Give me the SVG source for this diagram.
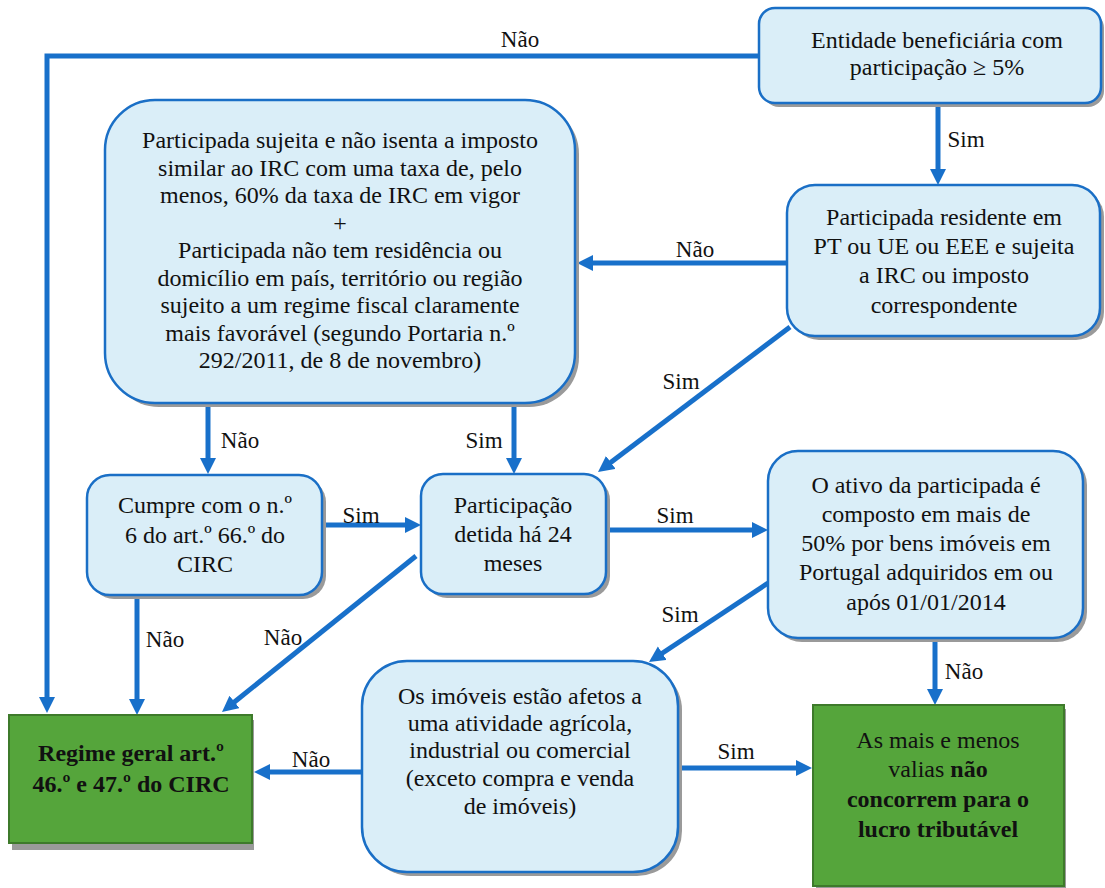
<svg xmlns="http://www.w3.org/2000/svg" width="1105" height="888" viewBox="0 0 1105 888" font-family="Liberation Serif, serif" font-size="24">
<defs>
<marker id="ah" markerUnits="userSpaceOnUse" markerWidth="18" markerHeight="18" refX="6" refY="8" orient="auto">
<path d="M0,0 L16,8 L0,16 z" fill="#1870CA"/>
</marker>
</defs>
<rect width="1105" height="888" fill="#fff"/>

<g id="connectors" fill="none" stroke="#1870CA" stroke-width="5" marker-end="url(#ah)">
<path d="M759,56 H47 V703"/>
<path d="M938,103 V175"/>
<path d="M787,263 H587"/>
<path d="M790,327 L606,466"/>
<path d="M208,403 V464"/>
<path d="M514,403 V464"/>
<path d="M323,525 H411"/>
<path d="M606,530 H758"/>
<path d="M137,595 V705"/>
<path d="M416,556 L229.8,705.7"/>
<path d="M768,583 L657.3,656.5"/>
<path d="M935,638 V695"/>
<path d="M362,772 H264"/>
<path d="M678,768 H802"/>
</g>
<g id="connector-labels" font-size="23" fill="#111" text-anchor="middle">
<text x="520" y="47">Não</text>
<text x="966" y="147">Sim</text>
<text x="695" y="257">Não</text>
<text x="681" y="389">Sim</text>
<text x="240" y="448">Não</text>
<text x="484" y="448">Sim</text>
<text x="361" y="523">Sim</text>
<text x="675" y="523">Sim</text>
<text x="165" y="647">Não</text>
<text x="283" y="645">Não</text>
<text x="680" y="622">Sim</text>
<text x="964" y="679">Não</text>
<text x="311" y="767">Não</text>
<text x="736" y="759">Sim</text>
</g>

<g id="n1" fill="#111" text-anchor="middle">
<rect fill="#9A9A9A" x="763" y="12" width="341" height="95" rx="16"/>
<rect fill="#DAEEF8" stroke="#1A6FC6" stroke-width="2.5" x="759" y="8" width="342" height="95" rx="16"/>
<text x="937" y="48">Entidade beneficiária com</text>
<text x="937" y="75">participação ≥ 5%</text>
</g>

<g id="n2" fill="#111" text-anchor="middle">
<rect fill="#9A9A9A" x="109" y="104" width="470" height="303" rx="50"/>
<rect fill="#DAEEF8" stroke="#1A6FC6" stroke-width="2.5" x="105" y="100" width="470" height="303" rx="50"/>
<text x="340" y="148">Participada sujeita e não isenta a imposto</text>
<text x="340" y="176">similar ao IRC com uma taxa de, pelo</text>
<text x="340" y="203">menos, 60% da taxa de IRC em vigor</text>
<text x="340" y="231">+</text>
<text x="340" y="258">Participada não tem residência ou</text>
<text x="340" y="286">domicílio em país, território ou região</text>
<text x="340" y="313">sujeito a um regime fiscal claramente</text>
<text x="340" y="341">mais favorável (segundo Portaria n.º</text>
<text x="340" y="368">292/2011, de 8 de novembro)</text>
</g>

<g id="n3" fill="#111" text-anchor="middle">
<rect fill="#9A9A9A" x="791" y="189" width="313" height="151" rx="28"/>
<rect fill="#DAEEF8" stroke="#1A6FC6" stroke-width="2.5" x="787" y="185" width="313" height="151" rx="28"/>
<text x="944" y="225">Participada residente em</text>
<text x="944" y="254">PT ou UE ou EEE e sujeita</text>
<text x="944" y="283">a IRC ou imposto</text>
<text x="944" y="313">correspondente</text>
</g>

<g id="n4" fill="#111" text-anchor="middle">
<rect fill="#9A9A9A" x="91" y="479" width="235" height="120" rx="23"/>
<rect fill="#DAEEF8" stroke="#1A6FC6" stroke-width="2.5" x="87" y="475" width="235" height="120" rx="23"/>
<text x="205" y="513">Cumpre com o n.º</text>
<text x="205" y="543">6 do art.º 66.º do</text>
<text x="205" y="572">CIRC</text>
</g>

<g id="n5" fill="#111" text-anchor="middle">
<rect fill="#9A9A9A" x="425" y="478" width="185" height="120" rx="22"/>
<rect fill="#DAEEF8" stroke="#1A6FC6" stroke-width="2.5" x="421" y="474" width="185" height="120" rx="22"/>
<text x="513" y="513">Participação</text>
<text x="513" y="542">detida há 24</text>
<text x="513" y="571">meses</text>
</g>

<g id="n6" fill="#111" text-anchor="middle">
<rect fill="#9A9A9A" x="772" y="455" width="315" height="187" rx="30"/>
<rect fill="#DAEEF8" stroke="#1A6FC6" stroke-width="2.5" x="768" y="451" width="315" height="187" rx="30"/>
<text x="926" y="493">O ativo da participada é</text>
<text x="926" y="522">composto em mais de</text>
<text x="926" y="551">50% por bens imóveis em</text>
<text x="926" y="580">Portugal adquiridos em ou</text>
<text x="926" y="610">após 01/01/2014</text>
</g>

<g id="n7" fill="#111" text-anchor="middle">
<rect fill="#9A9A9A" x="366" y="665" width="316" height="211" rx="45"/>
<rect fill="#DAEEF8" stroke="#1A6FC6" stroke-width="2.5" x="362" y="661" width="316" height="211" rx="45"/>
<text x="520" y="704">Os imóveis estão afetos a</text>
<text x="520" y="731">uma atividade agrícola,</text>
<text x="520" y="758">industrial ou comercial</text>
<text x="520" y="786">(exceto compra e venda</text>
<text x="520" y="814">de imóveis)</text>
</g>

<g id="n8" fill="#111" text-anchor="middle">
<rect fill="#9A9A9A" x="12" y="720" width="242" height="130"/>
<rect fill="#55A53B" stroke="#3E7A2B" stroke-width="2" x="9" y="715" width="243" height="128"/>
<text font-weight="bold" x="131" y="761">Regime geral art.º</text>
<text font-weight="bold" x="131" y="792">46.º e 47.º do CIRC</text>
</g>

<g id="n9" fill="#111" text-anchor="middle">
<rect fill="#9A9A9A" x="816" y="709" width="250" height="181"/>
<rect fill="#55A53B" stroke="#3E7A2B" stroke-width="2" x="813" y="705" width="251" height="181"/>
<text x="938" y="748">As mais e menos</text>
<text x="938" y="777">valias <tspan font-weight="bold">não</tspan></text>
<text font-weight="bold" x="938" y="807">concorrem para o</text>
<text font-weight="bold" x="938" y="837">lucro tributável</text>
</g>
</svg>
